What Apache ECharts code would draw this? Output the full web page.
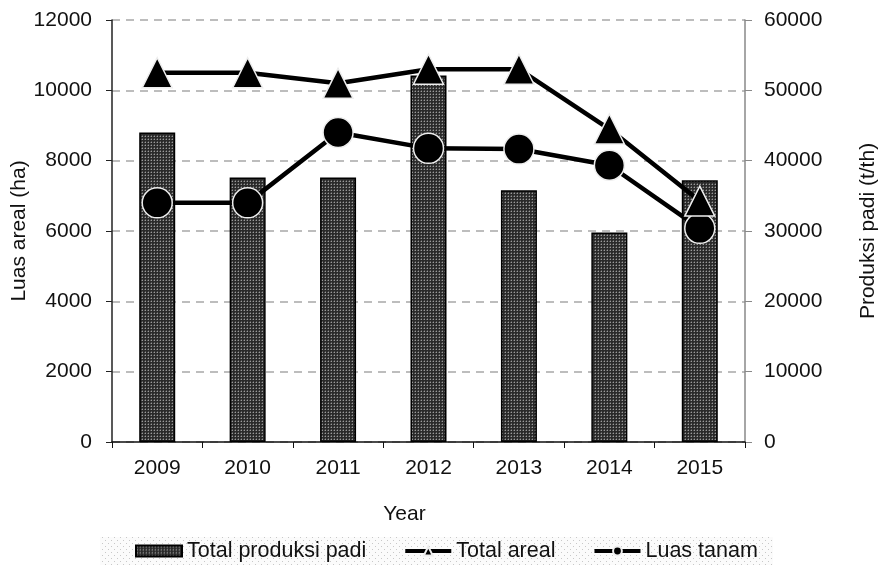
<!DOCTYPE html>
<html>
<head>
<meta charset="utf-8">
<script src="https://cdn.jsdelivr.net/npm/echarts@6/dist/echarts.min.js"></script>
<style>html,body{margin:0;padding:0;background:#fff;}#c{width:879px;height:569px;}</style>
</head>
<body>
<div id="c"></div>
<script>
var years = ['2009','2010','2011','2012','2013','2014','2015'];
var totalProduksi = [44000, 37600, 37600, 52100, 35800, 29800, 37200];
var totalAreal = [10500, 10500, 10200, 10600, 10600, 8900, 6850];
var luasTanam = [6800, 6800, 8800, 8350, 8330, 7870, 6075];
var leftTicks = [0, 2000, 4000, 6000, 8000, 10000, 12000];
var rightTicks = [0, 10000, 20000, 30000, 40000, 50000, 60000];

function makePattern(size, bg, pts) {
  var cv = document.createElement('canvas');
  cv.width = size; cv.height = size;
  var ctx = cv.getContext('2d');
  ctx.fillStyle = bg; ctx.fillRect(0, 0, size, size);
  pts.forEach(function (p) { ctx.fillStyle = p[2]; ctx.fillRect(p[0], p[1], 1, 1); });
  return cv;
}
var barPat = makePattern(3, '#2a2a2a', [[1,1,'#9a9a9a'],[1,0,'#555'],[0,1,'#555']]);
var legPat = makePattern(6, '#fbfbfb', [[0,0,'#c8c8c8'],[3,3,'#c8c8c8']]);

var font = 'Liberation Sans, Arial, Helvetica, sans-serif';
var chart = echarts.init(document.getElementById('c'), null, {renderer: 'canvas'});
chart.setOption({
  animation: false,
  backgroundColor: '#fff',
  textStyle: {fontFamily: font},
  grid: {left: 112, right: 134, top: 20, bottom: 127, containLabel: false, outerBoundsMode: 'none'},
  legend: {
    bottom: 4,
    left: 100,
    backgroundColor: {image: legPat, repeat: 'repeat'},
    padding: [3, 15, 3, 35],
    itemGap: 37,
    itemWidth: 46,
    itemHeight: 11,
    textStyle: {fontSize: 21.5, color: '#111', fontFamily: font},
    data: [
      {name: 'Total produksi padi', icon: 'rect'},
      {name: 'Total areal', lineStyle: {width: 4}},
      {name: 'Luas tanam', lineStyle: {width: 4}}
    ]
  },
  xAxis: {
    type: 'category',
    data: years,
    name: 'Year',
    nameLocation: 'middle',
    nameGap: 62,
    nameMoveOverlap: false,
    nameTextStyle: {fontSize: 21, color: '#111', padding: [0, 48, 0, 0]},
    axisLine: {lineStyle: {color: '#111', width: 1.5}},
    axisTick: {show: true, length: 6, lineStyle: {color: '#111'}},
    axisLabel: {fontSize: 21, color: '#111', margin: 16}
  },
  yAxis: [
    {
      type: 'value', min: 0, max: 12000, interval: 2000,
      name: 'Luas areal (ha)', nameLocation: 'middle', nameGap: 82, nameRotate: 90,
      nameMoveOverlap: false,
      nameTextStyle: {fontSize: 21, color: '#111'},
      axisLine: {show: true, lineStyle: {color: '#222', width: 1.5}},
      axisTick: {show: true, length: 6, lineStyle: {color: '#222'}},
      axisLabel: {fontSize: 21, color: '#111', margin: 20,
        formatter: function (v) { return leftTicks.indexOf(v) >= 0 ? String(v) : ''; }},
      splitLine: {show: true, lineStyle: {color: '#a8a8a8', type: [8, 6], width: 1.5}}
    },
    {
      type: 'value', min: 0, max: 60000, interval: 10000,
      name: 'Produksi padi (t/th)', nameLocation: 'middle', nameGap: 113, nameRotate: 90,
      nameMoveOverlap: false,
      nameTextStyle: {fontSize: 21, color: '#111'},
      axisLine: {show: true, lineStyle: {color: '#888', width: 1.5}},
      axisTick: {show: true, length: 7, lineStyle: {color: '#888'}},
      axisLabel: {fontSize: 21, color: '#111', margin: 19,
        formatter: function (v) { return rightTicks.indexOf(v) >= 0 ? String(v) : ''; }},
      splitLine: {show: false}
    }
  ],
  series: [
    {
      name: 'Total produksi padi', type: 'bar', yAxisIndex: 1,
      data: totalProduksi, barWidth: 36,
      itemStyle: {color: {image: barPat, repeat: 'repeat'}, borderColor: '#000', borderWidth: 1.5},
      z: 2
    },
    {
      name: 'Total areal', type: 'line', yAxisIndex: 0,
      data: totalAreal, symbol: 'triangle', symbolSize: [30, 30],
      lineStyle: {color: '#000', width: 4.5},
      itemStyle: {color: '#000', borderColor: '#eee', borderWidth: 1.5},
      z: 4
    },
    {
      name: 'Luas tanam', type: 'line', yAxisIndex: 0,
      data: luasTanam, symbol: 'circle', symbolSize: 30,
      lineStyle: {color: '#000', width: 4.5},
      itemStyle: {color: '#000', borderColor: '#eee', borderWidth: 1.5},
      z: 3
    }
  ]
});
</script>
</body>
</html>
